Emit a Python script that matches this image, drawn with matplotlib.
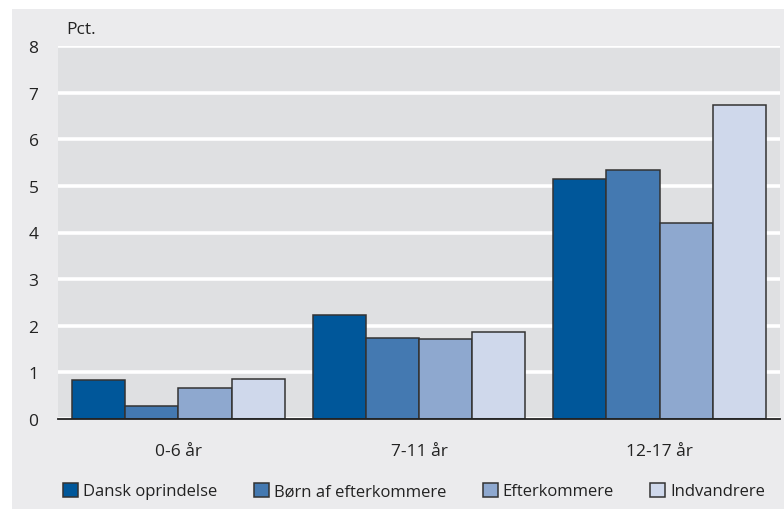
import numpy as np
import matplotlib.pyplot as plt
from matplotlib.patches import Rectangle

# Data
groups = ['0-6 år', '7-11 år', '12-17 år']
series = ['Dansk oprindelse', 'Børn af efterkommere', 'Efterkommere', 'Indvandrere']
dansk = [0.84, 2.24, 5.14]
boern = [0.28, 1.74, 5.35]
efterk = [0.67, 1.72, 4.21]
indv = [0.85, 1.87, 6.73]
colors = ['#00579a', '#4479b1', '#8ea8cf', '#cfd8eb']

plt.rcParams['font.family'] = ['Open Sans', 'DejaVu Sans']

fig = plt.figure(figsize=(7.84, 5.10), dpi=100)
fig.patch.set_facecolor('white')
# gray card behind everything
fig.patches.append(Rectangle((12 / 784, 0), 1 - 12 / 784, 500 / 510, transform=fig.transFigure,
                             facecolor='#ebebed', edgecolor='none', zorder=-10))

ax = fig.add_axes([58 / 784, (510 - 420) / 510, (780 - 58) / 784, (420 - 47) / 510])
ax.set_facecolor('#dfe0e2')

x = np.arange(len(groups))
width = 0.221
values = [dansk, boern, efterk, indv]
for i, (name, vals) in enumerate(zip(series, values)):
    ax.bar(x + (i - 1.5) * width, vals, width=width, color=colors[i],
           edgecolor='#333333', linewidth=1.1, label=name, zorder=3)

ax.set_xlim(-0.5, 2.5)
ax.set_ylim(0, 8)
ax.set_yticks(range(0, 9))
ax.yaxis.grid(True, color='white', linewidth=2.6, zorder=0)
ax.set_axisbelow(True)
for side in ['top', 'right', 'left']:
    ax.spines[side].set_visible(False)
ax.spines['bottom'].set_color('#222222')
ax.spines['bottom'].set_linewidth(1.3)
ax.spines['bottom'].set_zorder(5)

ax.set_xticks(x)
ax.set_xticklabels(groups, fontsize=12.5, color='#222222')
ax.tick_params(axis='x', length=0, pad=17)
ax.tick_params(axis='y', length=0, pad=14, labelsize=12.5, labelcolor='#222222')

fig.text(66 / 784, 1 - 30 / 510, 'Pct.', fontsize=12.5, color='#222222', va='center', ha='left')

leg = fig.legend(loc='center', bbox_to_anchor=(414 / 784, 1 - 492 / 510), ncol=4, frameon=False,
                 fontsize=12, handlelength=0.9, handleheight=0.9, handletextpad=0.3,
                 columnspacing=2.2, labelcolor='#222222')

fig.savefig('out.png', dpi=100)
